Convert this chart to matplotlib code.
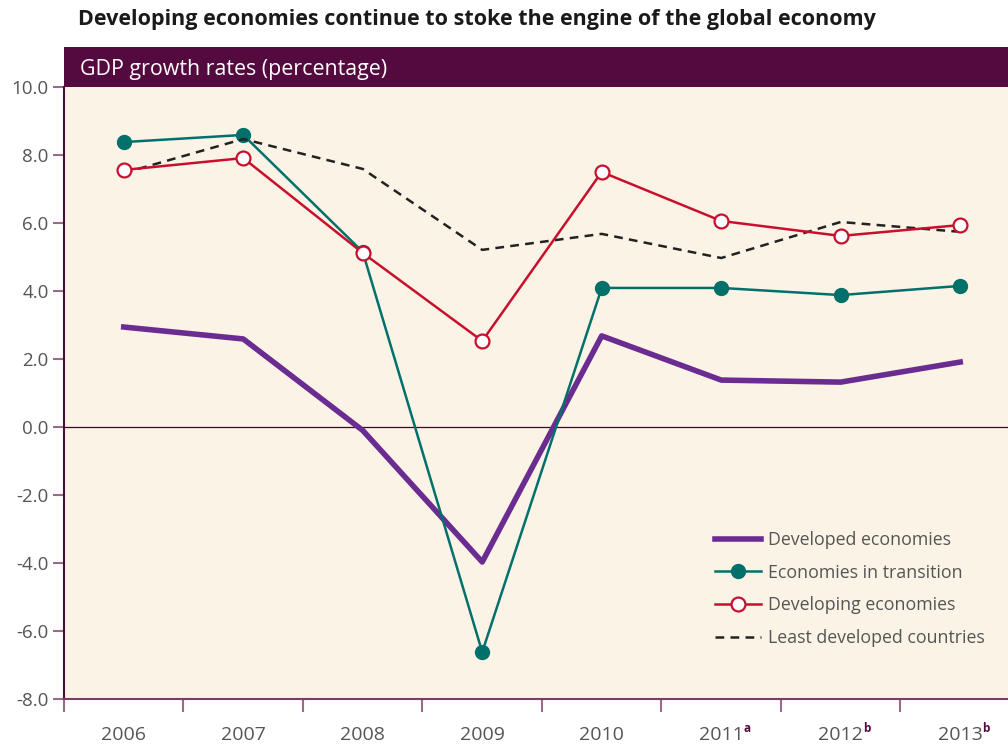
import matplotlib.pyplot as plt
import numpy as np

plt.rcParams['font.family'] = ['Open Sans', 'DejaVu Sans']

years = ['2006', '2007', '2008', '2009', '2010', '2011', '2012', '2013']
notes = ['', '', '', '', '', 'a', 'b', 'b']
developed = [2.94, 2.59, -0.1, -3.97, 2.68, 1.38, 1.32, 1.91]
transition = [8.38, 8.59, 5.15, -6.62, 4.09, 4.09, 3.88, 4.15]
developing = [7.56, 7.91, 5.12, 2.53, 7.50, 6.06, 5.62, 5.94]
least_dev = [7.47, 8.47, 7.59, 5.21, 5.68, 4.97, 6.03, 5.74]
yticks = [-8, -6, -4, -2, 0, 2, 4, 6, 8, 10]

cream = '#FBF3E6'
plum = '#540A3E'
tick_col = '#9A6A8C'
txt_col = '#555555'

W, H = 1008, 747
fig = plt.figure(figsize=(W / 100, H / 100), dpi=100)
ax = fig.add_axes([64 / W, 48 / H, 1 - 64 / W, (699 - 87) / H])
ax.set_facecolor(cream)

x = np.arange(len(years))
ax.axhline(0, color='#3a0a2a', lw=0.9, zorder=1)
ax.plot(x, developed, color='#6A2C91', lw=4, label='Developed economies', zorder=3)
ax.plot(x, transition, color='#00706B', lw=1.8, marker='o', ms=10,
        mfc='#00706B', mec='#00706B', label='Economies in transition', zorder=4)
ax.plot(x, developing, color='#C8102E', lw=1.8, marker='o', ms=10,
        mfc='white', mec='#C8102E', mew=1.6, label='Developing economies', zorder=5)
ax.plot(x, least_dev, color='#222222', lw=1.8, ls=(0, (3.5, 2.5)),
        label='Least developed countries', zorder=4)

ax.set_xlim(-0.5, 7.4)
ax.set_ylim(-8, 10)
ax.set_yticks(yticks)
ax.set_yticklabels([f'{v:.1f}' for v in yticks], color=txt_col, fontsize=13.5)
ax.tick_params(axis='y', length=8, width=1.5, color=tick_col, direction='out', pad=3)

ax.set_xticks(np.arange(-0.5, 7.0, 1.0))
ax.set_xticklabels([])
ax.tick_params(axis='x', length=9, width=1.5, color=tick_col, direction='out')
for i, (yr, n) in enumerate(zip(years, notes)):
    ax.annotate(yr, xy=(i, 0), xycoords=('data', 'axes fraction'),
                xytext=(0, -26), textcoords='offset points',
                ha='center', va='center', fontsize=14, color=txt_col)
    if n:
        ax.annotate(n, xy=(i, 0), xycoords=('data', 'axes fraction'),
                    xytext=(16, -21), textcoords='offset points',
                    ha='left', va='center', fontsize=8.5, fontweight='bold', color=plum)

for s in ['top', 'right']:
    ax.spines[s].set_visible(False)
ax.spines['left'].set_color('#4a0d38')
ax.spines['left'].set_linewidth(1.5)
ax.spines['bottom'].set_color('#7a3d68')
ax.spines['bottom'].set_linewidth(1.5)

# header band
band = fig.add_axes([64 / W, (H - 87) / H, 1 - 64 / W, 40 / H])
band.set_facecolor(plum)
band.set_xticks([])
band.set_yticks([])
for s in band.spines.values():
    s.set_visible(False)
band.text(16 / (W - 64), 0.45, 'GDP growth rates (percentage)', color='white',
          fontsize=15.4, va='center', ha='left', transform=band.transAxes)

fig.text(78 / W, 1 - 20 / H, 'Developing economies continue to stoke the engine of the global economy',
         fontsize=15.5, fontweight='bold', color='#1a1a1a', va='center', ha='left')

leg = ax.legend(loc='upper left', bbox_to_anchor=(699 / W, 1 - 515 / H),
                bbox_transform=fig.transFigure, frameon=False, fontsize=12.8,
                handlelength=2.6, labelspacing=0.82, handletextpad=0.4,
                labelcolor=txt_col)

fig.savefig('out.png', dpi=100, facecolor='white')
